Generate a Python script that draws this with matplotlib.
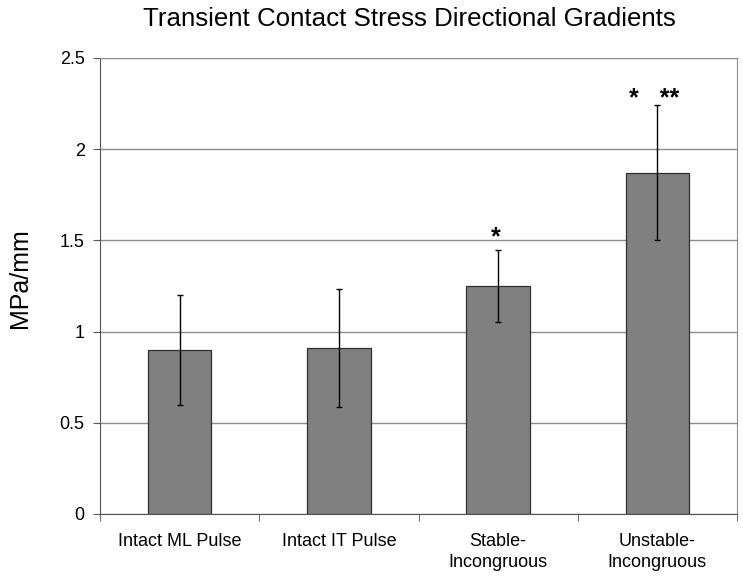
import matplotlib.pyplot as plt
import numpy as np

categories = ["Intact ML Pulse", "Intact IT Pulse", "Stable-\nIncongruous", "Unstable-\nIncongruous"]
values = [0.90, 0.91, 1.25, 1.87]
errors = [0.30, 0.325, 0.195, 0.37]
sig_marks = ["", "", "*", "*   **"]
sig_offsets = [0, 0, 1, -4]  # points above the error bar cap

plt.rcParams['font.family'] = ['Liberation Sans', 'DejaVu Sans']

fig = plt.figure(figsize=(7.43, 5.82), dpi=100)
ax = fig.add_axes([100 / 743, 68 / 582, 637 / 743, 456 / 582])

x = np.arange(len(categories))
ax.bar(x, values, width=0.4, color='#808080', edgecolor='#303030', linewidth=0.9, zorder=2)
ax.errorbar(x, values, yerr=errors, fmt='none', ecolor='black', elinewidth=1,
            capsize=2.5, capthick=1, zorder=3)

for xi, v, e, s, off in zip(x, values, errors, sig_marks, sig_offsets):
    if s:
        ax.annotate(s, (xi, v + e), xytext=(-2, off), textcoords='offset points',
                    ha='center', va='bottom', fontsize=18, fontweight='bold')

ax.set_xlim(-0.5, len(categories) - 0.5)
ax.set_ylim(0, 2.5)
ax.set_yticks(np.arange(0, 2.51, 0.5))
ax.set_yticklabels(['0', '0.5', '1', '1.5', '2', '2.5'])
ax.yaxis.grid(True, color='#8c8c8c', linewidth=1, zorder=0)
ax.set_axisbelow(True)

ax.set_xticks(x)
ax.set_xticklabels(categories, fontsize=13, linespacing=1.25)
ax.set_xticks(np.arange(-0.5, len(categories), 1.0), minor=True)
ax.tick_params(axis='x', which='major', length=0, pad=14)
ax.tick_params(axis='x', which='minor', length=5, color='#555555', direction='out')
ax.tick_params(axis='y', length=5, color='#555555', direction='out', labelsize=13, pad=6)

for side in ['left', 'bottom']:
    ax.spines[side].set_color('#555555')
for side in ['top', 'right']:
    ax.spines[side].set_color('#8c8c8c')

ax.set_ylabel("MPa/mm", fontsize=18)
ax.yaxis.set_label_coords(-0.107, 0.518)

fig.text(409 / 743, 1 - 26 / 582, "Transient Contact Stress Directional Gradients",
         ha='center', va='baseline', fontsize=18.6)

fig.savefig("out.png", dpi=100)
